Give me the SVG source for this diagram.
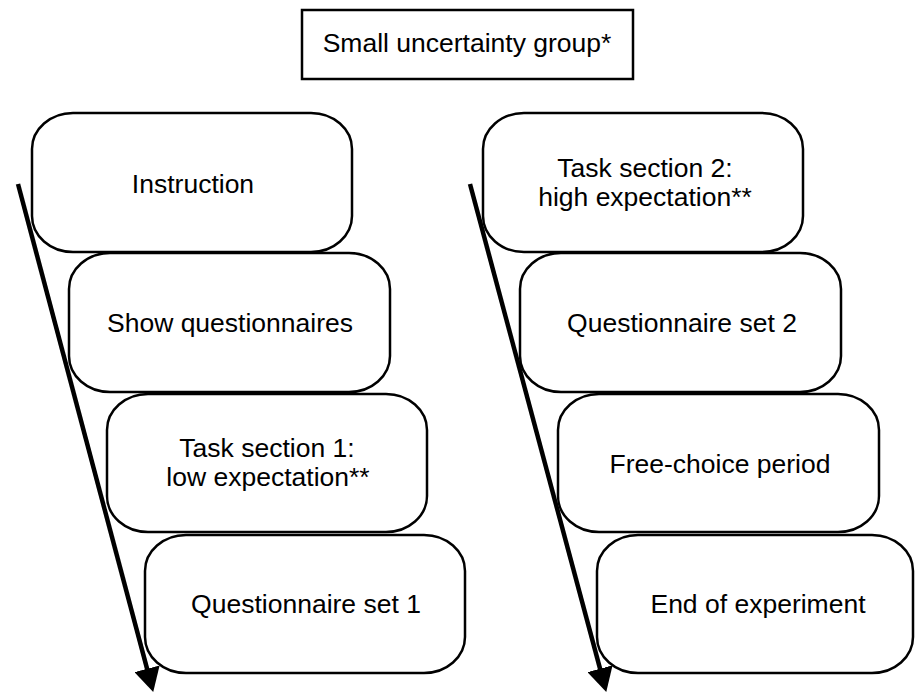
<svg xmlns="http://www.w3.org/2000/svg" width="915" height="692" viewBox="0 0 915 692">
<style>
  .box { fill: #fff; stroke: #000; stroke-width: 2.5; }
  .lbl { font-family: "Liberation Sans", Arial, sans-serif; font-size: 26.5px; fill: #000; text-anchor: middle; }
  .arrow { stroke: #000; stroke-width: 4.5; fill: none; }
</style>
<defs>
  <marker id="ah" markerUnits="userSpaceOnUse" markerWidth="26" markerHeight="26" viewBox="0 0 26 26" refX="1" refY="13" orient="auto">
    <path d="M0,0 L24,13 L0,26 Z" fill="#000"/>
  </marker>
</defs>
<rect width="915" height="692" fill="#fff"/>
<g id="title">
  <rect x="302" y="10" width="331" height="69" fill="#fff" stroke="#000" stroke-width="2.5"/>
  <text class="lbl" x="467" y="52">Small uncertainty group*</text>
</g>
<g id="instruction">
  <rect class="box" x="32" y="113" width="320" height="139" rx="41" ry="36"/>
  <text class="lbl" x="193" y="193">Instruction</text>
</g>
<g id="show-questionnaires">
  <rect class="box" x="69" y="253" width="321" height="139" rx="41" ry="36"/>
  <text class="lbl" x="230" y="332">Show questionnaires</text>
</g>
<g id="task1">
  <rect class="box" x="107" y="394" width="320" height="138" rx="41" ry="36"/>
  <text class="lbl" x="267" y="457">Task section 1:</text>
  <text class="lbl" x="268" y="486">low expectation**</text>
</g>
<g id="qset1">
  <rect class="box" x="145" y="535" width="320" height="138" rx="41" ry="36"/>
  <text class="lbl" x="306" y="613">Questionnaire set 1</text>
</g>
<g id="task2">
  <rect class="box" x="483" y="113" width="320" height="139" rx="41" ry="36"/>
  <text class="lbl" x="645" y="177">Task section 2:</text>
  <text class="lbl" x="645" y="206">high expectation**</text>
</g>
<g id="qset2">
  <rect class="box" x="520" y="253" width="321" height="139" rx="41" ry="36"/>
  <text class="lbl" x="682" y="332">Questionnaire set 2</text>
</g>
<g id="freechoice">
  <rect class="box" x="558" y="394" width="321" height="138" rx="41" ry="36"/>
  <text class="lbl" x="720" y="473">Free-choice period</text>
</g>
<g id="end">
  <rect class="box" x="597" y="535" width="316" height="138" rx="41" ry="36"/>
  <text class="lbl" x="758" y="613">End of experiment</text>
</g>
<g id="connectors">
  <line class="arrow" x1="18" y1="184" x2="147.3" y2="669.7" marker-end="url(#ah)"/>
  <line class="arrow" x1="470" y1="184" x2="600.3" y2="669.7" marker-end="url(#ah)"/>
</g>
</svg>
